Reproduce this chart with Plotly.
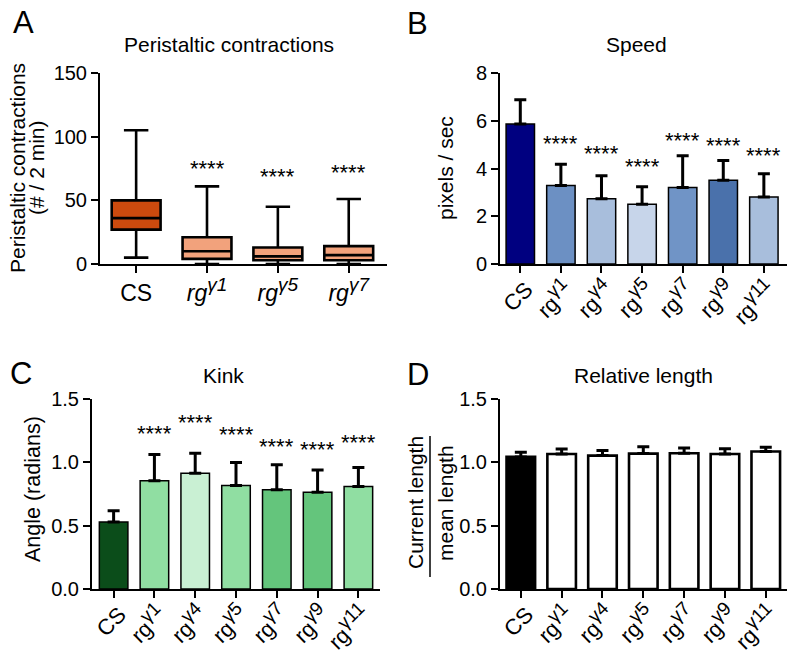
import plotly.graph_objects as go

W, H = 800, 668
FONT = "Arial, Liberation Sans, Helvetica, sans-serif"

# ---------------- data ----------------
# Panel A: peristaltic contractions (box plot, min-max whiskers)
a_cats = ["CS", "rgγ1", "rgγ5", "rgγ7"]
a_ticktext = ["CS",
              "<i>rg</i><sup><i><span style='font-size:19px'>γ1</span></i></sup>",
              "<i>rg</i><sup><i><span style='font-size:19px'>γ5</span></i></sup>",
              "<i>rg</i><sup><i><span style='font-size:19px'>γ7</span></i></sup>"]
a_min = [5, 0, 0, 0]
a_q1 = [27, 4, 3, 3]
a_med = [36, 10, 6, 7]
a_q3 = [50, 21, 13, 14]
a_max = [105, 61, 45, 51]
a_sig = ["", "****", "****", "****"]
a_sig_y = [None, 78, 72, 75]

# Panels B-D categories
bcd_cats = ["CS", "rgγ1", "rgγ4", "rgγ5", "rgγ7", "rgγ9", "rgγ11"]
bcd_ticktext = ["CS"] + ["rg<sup><span style='font-size:19px'>γ%s</span></sup>" % s
                         for s in ["1", "4", "5", "7", "9", "11"]]

# Panel B: speed (pixels / sec)
b_mean = [5.86, 3.29, 2.73, 2.50, 3.20, 3.51, 2.81]
b_err = [1.02, 0.89, 0.97, 0.74, 1.33, 0.82, 0.97]
b_sig = ["", "****", "****", "****", "****", "****", "****"]
b_sig_y = [None, 5.20, 4.81, 4.25, 5.34, 5.13, 4.71]

# Panel C: kink angle (radians)
c_mean = [0.528, 0.854, 0.914, 0.817, 0.783, 0.764, 0.809]
c_err = [0.089, 0.207, 0.158, 0.181, 0.197, 0.176, 0.150]
c_sig = ["", "****", "****", "****", "****", "****", "****"]
c_sig_y = [None, 1.256, 1.347, 1.248, 1.158, 1.130, 1.190]

# Panel D: relative length
d_mean = [1.043, 1.066, 1.053, 1.069, 1.072, 1.066, 1.085]
d_err = [0.037, 0.040, 0.040, 0.055, 0.042, 0.042, 0.034]

# colours
a_colors = ["#CC4A0E", "#F2A27C", "#F2A27C", "#F2A27C"]
b_colors = ["#000080", "#6C90C3", "#A8BEDC", "#C7D5EA", "#7094C6", "#4A71AB", "#A8BEDC"]
c_colors = ["#0B4D1A", "#90DEA2", "#C9F0D3", "#90DEA2", "#64C57C", "#64C57C", "#90DEA2"]
d_colors = ["#000000", "#FFFFFF", "#FFFFFF", "#FFFFFF", "#FFFFFF", "#FFFFFF", "#FFFFFF"]


def px(x):
    return x / W


def py(y):
    return 1 - y / H


fig = go.Figure()

# Panel A boxes
for i in range(len(a_cats)):
    fig.add_trace(go.Box(
        x=[i], q1=[a_q1[i]], median=[a_med[i]], q3=[a_q3[i]],
        lowerfence=[a_min[i]], upperfence=[a_max[i]],
        width=0.69, whiskerwidth=0.5, fillcolor=a_colors[i],
        line=dict(color="black", width=2.6), boxpoints=False,
        xaxis="x", yaxis="y", showlegend=False, hoverinfo="skip", name=a_cats[i]))


def add_bars(mean, err, colors, xa, ya, lw):
    fig.add_trace(go.Bar(
        x=list(range(len(mean))), y=mean, width=0.7,
        marker=dict(color=colors, line=dict(color="black", width=lw)),
        error_y=dict(type="data", symmetric=False, array=err,
                     arrayminus=[0] * len(err), color="black", thickness=3, width=6),
        xaxis=xa, yaxis=ya, showlegend=False, hoverinfo="skip"))


add_bars(b_mean, b_err, b_colors, "x2", "y2", 1.5)
add_bars(c_mean, c_err, c_colors, "x3", "y3", 1.5)
add_bars(d_mean, d_err, d_colors, "x4", "y4", 2.6)


def yax(dom, rng, tickvals, anchor, fmt=None, size=20):
    d = dict(domain=dom, range=rng, tickvals=tickvals, showline=True, linecolor="black",
             linewidth=2, ticks="outside", ticklen=7, tickwidth=2, tickcolor="black",
             showgrid=False, zeroline=False, fixedrange=True, automargin=False,
             anchor=anchor, tickfont=dict(family=FONT, size=size, color="black"))
    if fmt:
        d["tickformat"] = fmt
    return d


def xax(dom, rng, n, text, anchor, angle=0, size=22, shift=0, standoff=0):
    return dict(domain=dom, range=rng, tickvals=list(range(n)), ticktext=text,
                showline=True, linecolor="black", linewidth=2, ticks="outside",
                ticklen=7, tickwidth=2, tickcolor="black", showgrid=False,
                zeroline=False, anchor=anchor, tickangle=angle, fixedrange=True,
                automargin=False, ticklabelshift=shift, ticklabelstandoff=standoff,
                tickfont=dict(family=FONT, size=size, color="black"))


ydomAB = [py(264), py(73)]
ydomCD = [py(589), py(399)]

fig.update_layout(
    template="none",
    width=W, height=H, margin=dict(l=0, r=0, t=0, b=0, pad=0), autosize=False,
    paper_bgcolor="white", plot_bgcolor="white", boxmode="overlay",
    font=dict(family=FONT, color="black"),
    xaxis=xax([px(100), px(387)], [-0.51, 3.54], 4, a_ticktext, "y", 0, 23),
    yaxis=yax(ydomAB, [0, 150], [0, 50, 100, 150], "x"),
    xaxis2=xax([px(500), px(787)], [-0.5, 6.57], 7, bcd_ticktext, "y2", -45, 22, 6, -5),
    yaxis2=yax(ydomAB, [0, 8], [0, 2, 4, 6, 8], "x2"),
    xaxis3=xax([px(92), px(380)], [-0.53, 6.53], 7, bcd_ticktext, "y3", -45, 22, 6, -5),
    yaxis3=yax(ydomCD, [0, 1.5], [0, 0.5, 1.0, 1.5], "x3", ".1f"),
    xaxis4=xax([px(500), px(787)], [-0.51, 6.52], 7, bcd_ticktext, "y4", -45, 22, 6, -5),
    yaxis4=yax(ydomCD, [0, 1.5], [0, 0.5, 1.0, 1.5], "x4", ".1f"),
)

ann = []


def txt(x, y, s, size, angle=0):
    ann.append(dict(x=px(x), y=py(y), xref="paper", yref="paper", text=s, showarrow=False,
                    textangle=angle, xanchor="center", yanchor="middle",
                    font=dict(family=FONT, size=size, color="black")))


# panel letters
txt(23, 23, "A", 31)
txt(417, 24, "B", 31)
txt(21, 373, "C", 31)
txt(418, 374, "D", 31)
# titles
txt(229, 45, "Peristaltic contractions", 21)
txt(636, 45, "Speed", 21)
txt(223, 375, "Kink", 21)
txt(643, 375, "Relative length", 21)
# y-axis titles
txt(17, 168, "Peristaltic contractions", 21, -90)
txt(36, 168, "(# / 2 min)", 21, -90)
txt(445, 168, "pixels / sec", 21, -90)
txt(33, 489, "Angle (radians)", 21.5, -90)
txt(415, 503, "Current length", 21, -90)
txt(445, 503, "mean length", 21, -90)


def stars(sig, sig_y, xa, ya):
    for i, s in enumerate(sig):
        if s:
            ann.append(dict(x=i, y=sig_y[i], xref=xa, yref=ya, text=s, showarrow=False,
                            xanchor="center", yanchor="middle", yshift=-4,
                            font=dict(family=FONT, size=22, color="black")))


stars(a_sig, a_sig_y, "x", "y")
stars(b_sig, b_sig_y, "x2", "y2")
stars(c_sig, c_sig_y, "x3", "y3")

fig.update_layout(annotations=ann)
fig.add_shape(type="line", xref="paper", yref="paper", x0=px(430), x1=px(430),
              y0=py(436), y1=py(577), line=dict(color="black", width=1.5))

# remove the browser's default 8px page margin so the figure sits at the window origin
fig.write_html("out.html", config={"displayModeBar": False},
               post_script="document.body.style.margin='0px';")
